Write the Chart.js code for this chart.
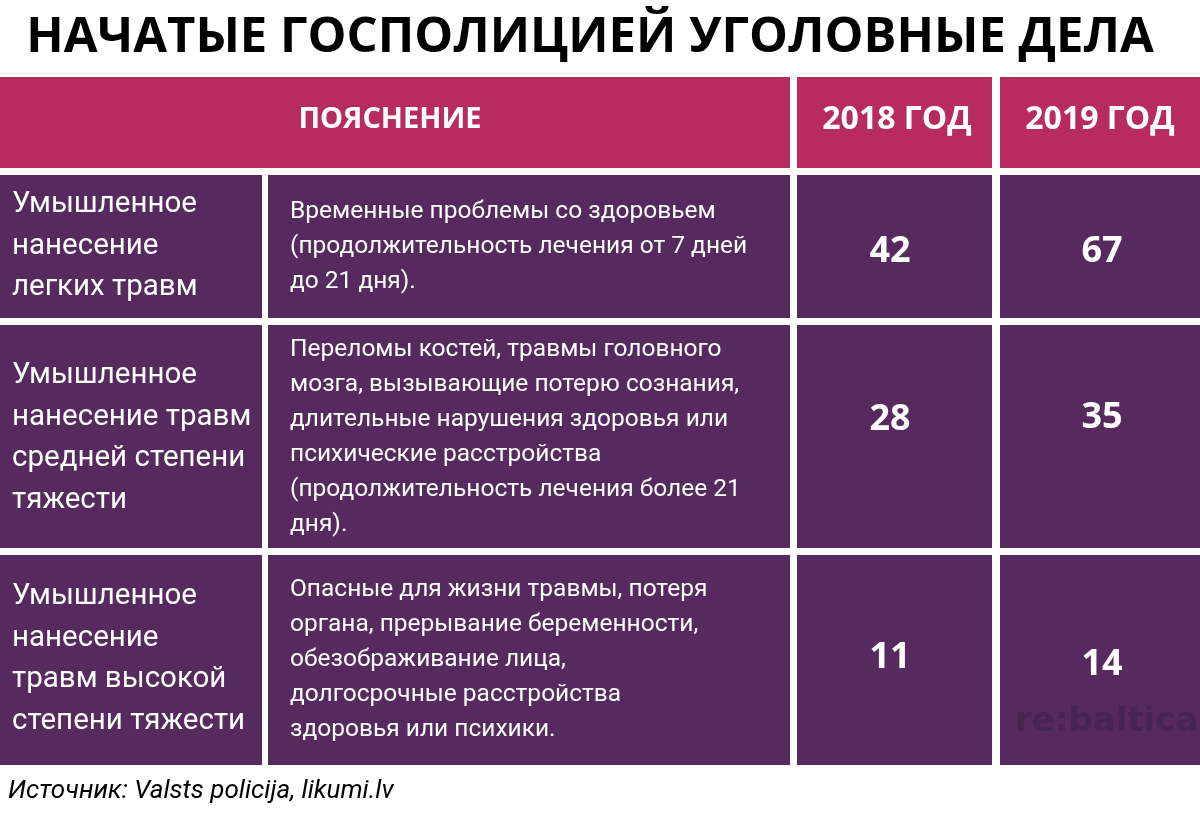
<!DOCTYPE html>
<html><head><meta charset="utf-8">
<script src="https://cdn.jsdelivr.net/npm/chart.js@4"></script>
<style>html,body{margin:0;padding:0;background:#fff}</style>
</head><body>
<canvas id="c" width="1200" height="820"></canvas>
<script>
const title = "НАЧАТЫЕ ГОСПОЛИЦИЕЙ УГОЛОВНЫЕ ДЕЛА";
const headers = ["ПОЯСНЕНИЕ", "2018 ГОД", "2019 ГОД"];
const categories = [
  ["Умышленное", "нанесение", "легких травм"],
  ["Умышленное", "нанесение травм", "средней степени", "тяжести"],
  ["Умышленное", "нанесение", "травм высокой", "степени тяжести"]
];
const descriptions = [
  ["Временные проблемы со здоровьем", "(продолжительность лечения от 7 дней", "до 21 дня)."],
  ["Переломы костей, травмы головного", "мозга, вызывающие потерю сознания,", "длительные нарушения здоровья или", "психические расстройства", "(продолжительность лечения более 21", "дня)."],
  ["Опасные для жизни травмы, потеря", "органа, прерывание беременности,", "обезображивание лица,", "долгосрочные расстройства", "здоровья или психики."]
];
const values2018 = [42, 28, 11];
const values2019 = [67, 35, 14];
const source = "Источник: Valsts policija, likumi.lv";

const tablePlugin = {
  id: 'table',
  afterDraw(chart) {
    const ctx = chart.ctx;
    ctx.save();
    ctx.fillStyle = '#fff'; ctx.fillRect(0,0,1200,820);
    ctx.fillStyle = '#000'; ctx.textAlign='center'; ctx.textBaseline='middle';
    ctx.font = 'bold 49px "Open Sans", "DejaVu Sans", sans-serif';
    ctx.fillText(title, 590, 38);
    const cols = [[0,262],[268,790],[797,992],[1000,1200]];
    ctx.fillStyle = '#b72b5f';
    ctx.fillRect(0,77,790,91); ctx.fillRect(797,77,195,91); ctx.fillRect(1000,77,200,91);
    ctx.fillStyle='#fff'; ctx.font='bold 29px "Open Sans", sans-serif';
    ctx.fillText(headers[0], 390, 120);
    ctx.font='bold 32px "Open Sans", sans-serif';
    ctx.fillText(headers[1], 897, 120); ctx.fillText(headers[2], 1100, 120);
    const rows = [[175,318],[325,548],[555,765]];
    const descTop = [212, 350, 590];
    const catTop = [205, 376, 597];
    rows.forEach(([y0,y1],i)=>{
      ctx.fillStyle='#562a5e';
      cols.forEach(([x0,x1])=>ctx.fillRect(x0,y0,x1-x0,y1-y0));
      ctx.fillStyle='#fff'; ctx.textAlign='left';
      ctx.font='29.5px Roboto, sans-serif';
      categories[i].forEach((t,j)=>ctx.fillText(t, 12, catTop[i]+j*41.5));
      ctx.font='24.5px Roboto, sans-serif';
      descriptions[i].forEach((t,j)=>ctx.fillText(t, 290, descTop[i]+j*35));
      ctx.textAlign='center'; ctx.font='bold 36px "Open Sans", sans-serif';
      const ys2018=[252,420,658], ys2019=[252,418,665];
      ctx.fillText(String(values2018[i]), 890, ys2018[i]);
      ctx.fillText(String(values2019[i]), 1102, ys2019[i]);
    });
    ctx.textAlign='left';
    ctx.fillStyle='rgba(70,35,80,0.9)'; ctx.font='bold 34px "DejaVu Sans", sans-serif';
    ctx.fillText('re:baltica', 1015, 722);
    ctx.fillStyle='#000'; ctx.font='italic 26px Roboto, sans-serif';
    ctx.fillText(source, 8, 791);
    ctx.restore();
  }
};
new Chart(document.getElementById('c'), {
  type:'bar',
  data:{labels:headers, datasets:[{data:[0,0,0]}]},
  options:{responsive:false, animation:false, plugins:{legend:{display:false},tooltip:{enabled:false}},
    scales:{x:{display:false},y:{display:false}}},
  plugins:[tablePlugin]
});
</script>
</body></html>
